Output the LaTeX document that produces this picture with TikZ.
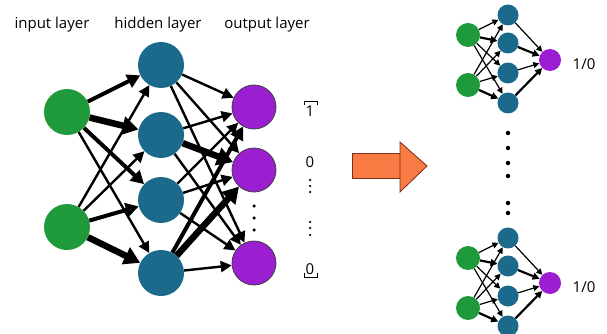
\documentclass[tikz,border=0pt]{standalone}
\usepackage{fontspec}
\setmainfont{Open Sans}
\usetikzlibrary{arrows.meta}
\definecolor{ingreen}{HTML}{1F9A3B}
\definecolor{hidblue}{HTML}{1B6A8B}
\definecolor{outpurp}{HTML}{9B1FD0}
\definecolor{arrorange}{HTML}{F77B43}
\definecolor{arredge}{HTML}{7A2E14}
\begin{document}
\begin{tikzpicture}[x=1pt,y=-1pt,
  innode/.style={circle,fill=ingreen,minimum size=46pt,inner sep=0pt},
  hidnode/.style={circle,fill=hidblue,minimum size=46pt,inner sep=0pt},
  outnode/.style={circle,fill=outpurp,draw=black!75,line width=0.8pt,minimum size=44pt,inner sep=0pt},
  sin/.style={circle,fill=ingreen,minimum size=24pt,inner sep=0pt},
  shid/.style={circle,fill=hidblue,minimum size=21pt,inner sep=0pt},
  sout/.style={circle,fill=outpurp,minimum size=22pt,inner sep=0pt},
  wthin/.style={line width=2.4pt,-{Triangle[length=11pt,width=11pt]}},
  wmid/.style={line width=4pt,-{Triangle[length=13pt,width=14pt]}},
  wthick/.style={line width=6.5pt,-{Triangle[length=16pt,width=18pt]}},
  sthin/.style={line width=1.2pt,-{Triangle[length=6pt,width=6pt]}},
  sthick/.style={line width=2.2pt,-{Triangle[length=7pt,width=7pt]}},
  lbl/.style={font=\fontsize{15}{17}\selectfont,inner sep=0pt},
  vlbl/.style={font=\fontsize{15}{17}\selectfont,inner sep=0pt},
  dotc/.style={circle,fill=black,minimum size=3.5pt,inner sep=0pt},
  sdot/.style={circle,fill=black,minimum size=4.5pt,inner sep=0pt},
  bigarrow/.style={fill=arrorange,draw=arredge,line width=0.8pt,line join=miter}]
\useasboundingbox[fill=white] (0,0) rectangle (607,334);

% labels
\node[lbl] (lin) at (52,25) {input layer};
\node[lbl] (lhid) at (158,25) {hidden layer};
\node[lbl] (lout) at (267,25) {output layer};

% left network nodes
\node[innode] (i1) at (67,112) {};
\node[innode] (i2) at (67,227) {};
\node[hidnode] (h1) at (161,65) {};
\node[hidnode] (h2) at (161,135) {};
\node[hidnode] (h3) at (161,200) {};
\node[hidnode] (h4) at (161,273) {};
\node[outnode] (o1) at (254,107) {};
\node[outnode] (o2) at (254,170) {};
\node[outnode] (o3) at (254,263) {};

% dots between outputs
\node[dotc] (d1) at (254,206) {};
\node[dotc] (d2) at (254,218) {};
\node[dotc] (d3) at (254,230) {};

% input -> hidden
\draw[wmid] (i1) -- (h1);
\draw[wthick] (i1) -- (h2);
\draw[wmid] (i1) -- (h3);
\draw[wthin] (i1) -- (h4);
\draw[wthin] (i2) -- (h1);
\draw[wthin] (i2) -- (h2);
\draw[wmid] (i2) -- (h3);
\draw[wthick] (i2) -- (h4);
% hidden -> output
\draw[wthin] (h1) -- (o1);
\draw[wthin] (h1) -- (o2);
\draw[wthin] (h1) -- (o3);
\draw[wthin] (h2) -- (o1);
\draw[wthick] (h2) -- (o2);
\draw[wthin] (h2) -- (o3);
\draw[wthin] (h3) -- (o1);
\draw[wthin] (h3) -- (o2);
\draw[wthin] (h3) -- (o3);
\draw[wmid] (h4) -- (o1);
\draw[wthick] (h4) -- (o2);
\draw[wthin] (h4) -- (o3);

% output vector
\node[vlbl] (v1) at (310,111) {1};
\node[vlbl] (v2) at (310,162) {0};
\node[vlbl] (v3) at (310,269) {0};
\draw[line width=0.8pt] (304,105) -- (304,101) -- (317,101) -- (317,105);
\draw[line width=0.8pt] (304,273) -- (304,277) -- (317,277) -- (317,273);
\foreach \yy [count=\k] in {180,186,192,222,228,235}
  \node[circle,fill=black,minimum size=2.5pt,inner sep=0pt] (vd\k) at (310,\yy) {};

% big orange arrow
\path[bigarrow] (352,153) rectangle (400,178);
\path[bigarrow] (400,142) -- (427,166) -- (400,192) -- cycle;

% small networks
\foreach \p/\dy in {t/0,b/223}{
  \begin{scope}[shift={(0,\dy)}]
    \node[sin] (\p i1) at (468,35) {};
    \node[sin] (\p i2) at (468,85) {};
    \node[shid] (\p h1) at (508,15) {};
    \node[shid] (\p h2) at (508,43) {};
    \node[shid] (\p h3) at (508,73) {};
    \node[shid] (\p h4) at (508,103) {};
    \node[sout] (\p o) at (550,60) {};
    \node[lbl] (\p l) at (584,64) {1/0};
    \draw[sthin] (\p i1) -- (\p h1);
    \draw[sthick] (\p i1) -- (\p h2);
    \draw[sthin] (\p i1) -- (\p h3);
    \draw[sthin] (\p i1) -- (\p h4);
    \draw[sthin] (\p i2) -- (\p h1);
    \draw[sthin] (\p i2) -- (\p h2);
    \draw[sthin] (\p i2) -- (\p h3);
    \draw[sthick] (\p i2) -- (\p h4);
    \draw[sthin] (\p h1) -- (\p o);
    \draw[sthick] (\p h2) -- (\p o);
    \draw[sthin] (\p h3) -- (\p o);
    \draw[sthick] (\p h4) -- (\p o);
  \end{scope}
}
% dots between small networks
\foreach \yy [count=\k] in {133,148,163,176,203,213}
  \node[sdot] (sd\k) at (508,\yy) {};
\end{tikzpicture}
\end{document}
